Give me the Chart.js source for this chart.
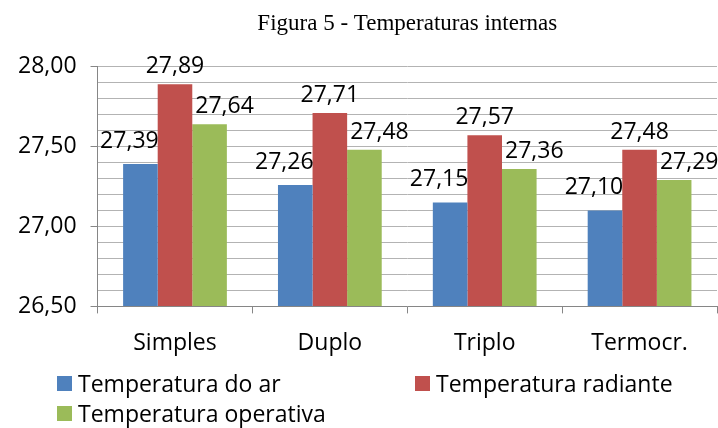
<!DOCTYPE html>
<html>
<head>
<meta charset="utf-8">
<script src="https://cdn.jsdelivr.net/npm/chart.js@4"></script>
<style>
  html, body { margin: 0; padding: 0; background: #fff; }
  #wrap { position: relative; width: 718px; height: 428px; }
  #legend {
    position: absolute; left: 57px; top: 370px;
    display: grid; grid-template-columns: 358px 300px; row-gap: 4px;
    font-family: "Open Sans", sans-serif; font-size: 23px; color: #000;
  }
  #legend div { display: flex; align-items: center; height: 26px; }
  #legend span.box { display: inline-block; width: 15px; height: 15px; margin-right: 6px; }
</style>
</head>
<body>
<div id="wrap">
  <canvas id="chart" width="718" height="428"></canvas>
  <div id="legend"></div>
</div>
<script>
const categories = ["Simples", "Duplo", "Triplo", "Termocr."];
const seriesNames = ["Temperatura do ar", "Temperatura radiante", "Temperatura operativa"];
const airTemp = [27.39, 27.26, 27.15, 27.10];
const radiantTemp = [27.89, 27.71, 27.57, 27.48];
const operativeTemp = [27.64, 27.48, 27.36, 27.29];
const colors = ["#4F81BD", "#C0504D", "#9BBB59"];

const fmt = v => v.toFixed(2).replace(".", ",");
const font = "'Open Sans', sans-serif";

// label offsets per series (like the hand-placed labels in the original)
const labelShift = [[-11, -16], [0, -11], [15, -11]];

const valueLabels = {
  id: "valueLabels",
  afterDatasetsDraw(chart) {
    const ctx = chart.ctx;
    ctx.save();
    ctx.font = "23px " + font;
    ctx.fillStyle = "#000";
    ctx.textAlign = "center";
    ctx.textBaseline = "alphabetic";
    chart.data.datasets.forEach((ds, i) => {
      chart.getDatasetMeta(i).data.forEach((bar, j) => {
        ctx.fillText(fmt(ds.data[j]), bar.x + labelShift[i][0], bar.y + labelShift[i][1]);
      });
    });
    ctx.restore();
  }
};

const chart = new Chart(document.getElementById("chart").getContext("2d"), {
  type: "bar",
  data: {
    labels: categories,
    datasets: [
      { label: seriesNames[0], data: airTemp, backgroundColor: colors[0] },
      { label: seriesNames[1], data: radiantTemp, backgroundColor: colors[1] },
      { label: seriesNames[2], data: operativeTemp, backgroundColor: colors[2] }
    ]
  },
  options: {
    responsive: false,
    animation: false,
    layout: { padding: { left: 4, right: 1, bottom: 55 } },
    datasets: { bar: { categoryPercentage: 0.67, barPercentage: 1.0, base: 26.5 } },
    plugins: {
      legend: { display: false },
      tooltip: { enabled: false },
      title: {
        display: true,
        text: "Figura 5 - Temperaturas internas",
        fullSize: false,
        color: "#000",
        font: { family: "'Liberation Serif', 'Times New Roman', serif", size: 23, weight: "normal" },
        padding: { top: 10, bottom: 29 }
      }
    },
    scales: {
      x: {
        grid: { offset: true, drawOnChartArea: false, color: "#868686", tickLength: 7 },
        border: { color: "#868686" },
        ticks: { color: "#000", font: { family: font, size: 23 }, padding: 16 }
      },
      y: {
        min: 26.5,
        max: 28.0,
        grid: {
          color: "#b3b3b3",
          tickLength: 7,
          tickColor: c => (Math.round(c.tick.value * 10) % 5 === 0 ? "#868686" : "rgba(0,0,0,0)")
        },
        border: { color: "#868686" },
        ticks: {
          stepSize: 0.1,
          autoSkip: false,
          color: "#000",
          font: { family: font, size: 23 },
          padding: 14,
          callback: v => (Math.round(v * 10) % 5 === 0 ? fmt(v) : "")
        }
      }
    }
  },
  plugins: [valueLabels]
});

const legend = document.getElementById("legend");
chart.data.datasets.forEach(ds => {
  const item = document.createElement("div");
  item.innerHTML = '<span class="box" style="background:' + ds.backgroundColor + '"></span>' + ds.label;
  legend.appendChild(item);
});
</script>
</body>
</html>
